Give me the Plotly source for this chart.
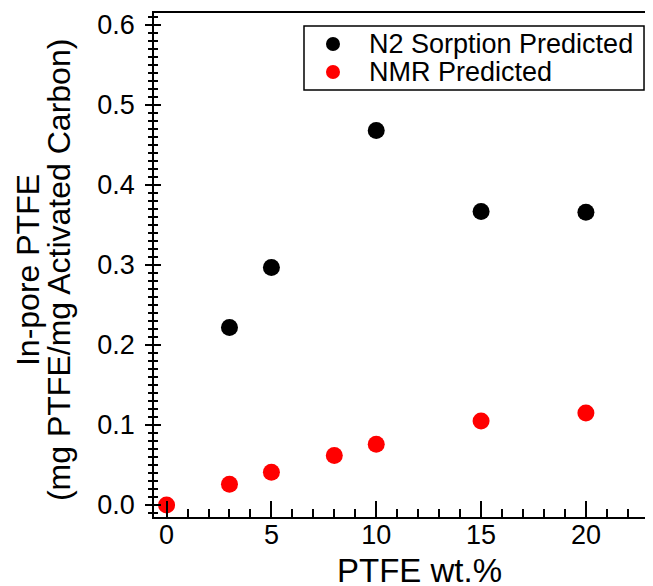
import plotly.graph_objects as go

# Data
n2_x = [3, 5, 10, 15, 20]
n2_y = [0.222, 0.297, 0.468, 0.367, 0.366]
nmr_x = [0, 3, 5, 8, 10, 15, 20]
nmr_y = [0.0, 0.026, 0.041, 0.062, 0.076, 0.105, 0.115]
series_names = ["N2 Sorption Predicted", "NMR Predicted"]
series_colors = ["black", "#ff0000"]

FONT = "Liberation Sans, Arial, sans-serif"

fig = go.Figure()
fig.add_trace(go.Scatter(x=n2_x, y=n2_y, mode="markers", name=series_names[0], showlegend=False,
                         marker=dict(color=series_colors[0], size=17, line=dict(width=0))))
fig.add_trace(go.Scatter(x=nmr_x, y=nmr_y, mode="markers", name=series_names[1], showlegend=False,
                         marker=dict(color=series_colors[1], size=17, line=dict(width=0))))
# dummy trace to materialise the overlay y axis (inside ticks)
fig.add_trace(go.Scatter(x=[None], y=[None], yaxis="y2", showlegend=False, hoverinfo="skip"))

# page body has an 8px margin, so the figure is sized 8px smaller than the window
fig.update_layout(
    width=645, height=578,
    margin=dict(l=146, r=0, t=5, b=69),
    paper_bgcolor="white", plot_bgcolor="white",
    font=dict(family=FONT, color="black", size=26),
    xaxis=dict(range=[-0.6, 23.2], tick0=0, dtick=5, ticks="inside", ticklen=16,
               tickwidth=1.5, tickcolor="black", showline=True, linewidth=1.5,
               linecolor="black", mirror=True, showgrid=False, zeroline=False,
               minor=dict(dtick=1, ticks="inside", ticklen=8, tickwidth=1.5, tickcolor="black"),
               tickfont=dict(size=27, family=FONT), ticklabelstandoff=-7),
    yaxis=dict(range=[-0.015, 0.615], tick0=0, dtick=0.1, tickformat=".1f",
               ticks="outside", ticklen=7, tickwidth=1.5, tickcolor="black",
               showline=True, linewidth=1.5, linecolor="black", showgrid=False,
               zeroline=False,
               minor=dict(dtick=0.01, ticks="outside", ticklen=4, tickwidth=1.5, tickcolor="black"),
               tickfont=dict(size=27, family=FONT), ticklabelstandoff=5),
    yaxis2=dict(range=[-0.015, 0.615], overlaying="y", side="left", anchor="x",
                tick0=0, dtick=0.1, ticks="inside", ticklen=7, tickwidth=1.5,
                tickcolor="black", showticklabels=False, showline=False,
                showgrid=False, zeroline=False,
                minor=dict(dtick=0.01, ticks="inside", ticklen=4, tickwidth=1.5, tickcolor="black")),
)

# legend box (compact, as in the reference)
fig.add_shape(type="rect", xref="paper", yref="paper", x0=0.3006, x1=0.982, y0=0.847, y1=0.974,
              line=dict(color="black", width=1.5), fillcolor="white", layer="above")
leg_y = [0.9385, 0.8829]
for name, col, yy in zip(series_names, series_colors, leg_y):
    fig.add_shape(type="circle", xref="paper", yref="paper", xsizemode="pixel", ysizemode="pixel",
                  xanchor=0.3587, yanchor=yy, x0=-7, x1=7, y0=-7, y1=7,
                  fillcolor=col, line=dict(width=0), layer="above")
    fig.add_annotation(text=name, xref="paper", yref="paper", x=0.4269, y=yy,
                       xanchor="left", yanchor="middle", showarrow=False,
                       font=dict(size=27, family=FONT, color="black"))

# axis titles as annotations for exact placement
fig.add_annotation(text="PTFE wt.%", xref="paper", yref="paper", x=0.533, y=0,
                   xanchor="center", yanchor="middle", yshift=-53, showarrow=False,
                   font=dict(size=33, family=FONT, color="black"))
fig.add_annotation(text="In-pore PTFE", xref="paper", yref="paper",
                   x=0, y=0.49, xanchor="center", yanchor="middle", xshift=-126,
                   textangle=-90, showarrow=False,
                   font=dict(size=32, family=FONT, color="black"))
fig.add_annotation(text="(mg PTFE/mg Activated Carbon)", xref="paper", yref="paper",
                   x=0, y=0.49, xanchor="center", yanchor="middle", xshift=-95,
                   textangle=-90, showarrow=False,
                   font=dict(size=32, family=FONT, color="black"))

fig.write_html("out.html")
